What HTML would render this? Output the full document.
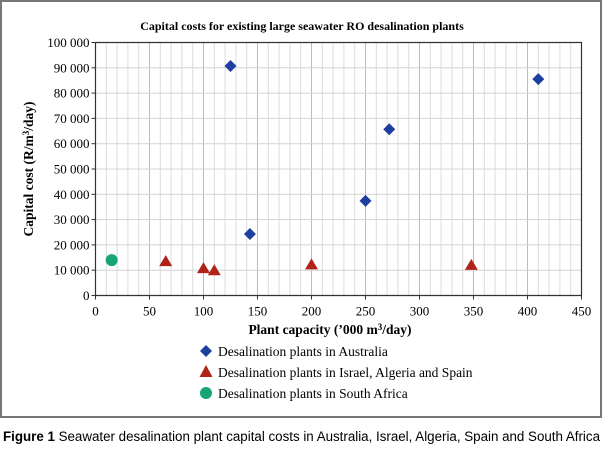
<!DOCTYPE html>
<html><head><meta charset="utf-8"><style>
html,body{margin:0;padding:0;background:#fff;}
svg{display:block;font-family:"Liberation Serif",serif;}
</style></head><body>
<svg id="chart" width="603" height="462" viewBox="0 0 603 462">
<rect x="1" y="1" width="600" height="416" fill="#fff" stroke="#777" stroke-width="2"/>
<text x="302" y="30" text-anchor="middle" font-size="12" font-weight="bold">Capital costs for existing large seawater RO desalination plants</text>
<g id="grid"></g>
<g id="axes"></g>
<g id="marks"></g>
<text x="330" y="334" text-anchor="middle" font-size="13.5" font-weight="bold">Plant capacity (’000 m<tspan font-size="9" dy="-4">3</tspan><tspan dy="4">/day)</tspan></text>
<text transform="translate(33,169) rotate(-90)" text-anchor="middle" font-size="13.5" font-weight="bold">Capital cost (R/m<tspan font-size="9" dy="-4">3</tspan><tspan dy="4">/day)</tspan></text>
<g>
<g><polygon points="206,345 212,351 206,357 200,351" fill="#1f3fa0"/><text x="218" y="356" font-size="13.5">Desalination plants in Australia</text></g>
<g><polygon points="206,365 212.5,377 199.5,377" fill="#b02318"/><text x="218" y="377" font-size="13.5">Desalination plants in Israel, Algeria and Spain</text></g>
<g><circle cx="206" cy="393" r="6" fill="#16a672"/><text x="218" y="398" font-size="13.5">Desalination plants in South Africa</text></g>
</g>
<text x="3" y="441" font-family="'Liberation Sans',sans-serif" font-size="13.5" textLength="597" lengthAdjust="spacingAndGlyphs"><tspan font-weight="bold">Figure 1</tspan> Seawater desalination plant capital costs in Australia, Israel, Algeria, Spain and South Africa</text>
</svg>
<script>
const xTicks=[0,50,100,150,200,250,300,350,400,450];
const yTicks=[0,10000,20000,30000,40000,50000,60000,70000,80000,90000,100000];
const ausX=[125,143,250,272,410];
const ausY=[90700,24300,37400,65700,85500];
const isrX=[65,100,110,200,348];
const isrY=[13600,10800,10000,12300,12100];
const saX=[15];
const saY=[14000];
const NS='http://www.w3.org/2000/svg';
const X0=95.5,X1=581.5,Y0=295.5,Y1=42.5;
function sx(v){return X0+(v/450)*(X1-X0);}
function sy(v){return Y0-(v/100000)*(Y0-Y1);}
function mk(tag,attrs,parent){const e=document.createElementNS(NS,tag);for(const k in attrs)e.setAttribute(k,attrs[k]);parent.appendChild(e);return e;}
const grid=document.getElementById('grid'),axes=document.getElementById('axes'),marks=document.getElementById('marks');
for(let v=10;v<450;v+=10){const l=mk('line',{x1:sx(v),x2:sx(v),y1:Y1,y2:Y0,stroke:(v%50===0)?'#bbb':'#dcdcdc','stroke-width':1},grid);

}
yTicks.forEach(v=>{if(v===0)return;const l=mk('line',{x1:X0,x2:X1,y1:sy(v),y2:sy(v),stroke:'#d4d4d4','stroke-width':1},grid);

});
const ax=mk('path',{d:`M${X0},${Y1}V${Y0}H${X1}V${Y1}H${X0}`,fill:'none',stroke:'#333','stroke-width':1.2},axes);


xTicks.forEach(v=>{mk('line',{x1:sx(v),x2:sx(v),y1:Y0,y2:Y0+4,stroke:'#333'},axes);
const t=mk('text',{x:sx(v),y:Y0+20,'text-anchor':'middle','font-size':13},axes);t.textContent=v;

});
yTicks.forEach(v=>{mk('line',{x1:X0-4,x2:X0,y1:sy(v),y2:sy(v),stroke:'#333'},axes);
const t=mk('text',{x:X0-6,y:sy(v)+4.5,'text-anchor':'end','font-size':13},axes);t.textContent=v===0?'0':v.toLocaleString('en-US').replace(/,/g,' ');

});
ausX.forEach((v,i)=>{const x=sx(v),y=sy(ausY[i]);const p=mk('polygon',{points:`${x},${y-6} ${x+6},${y} ${x},${y+6} ${x-6},${y}`,fill:'#1f3fa0'},marks);

});
isrX.forEach((v,i)=>{const x=sx(v),y=sy(isrY[i]);const p=mk('polygon',{points:`${x},${y-6} ${x+6.5},${y+5} ${x-6.5},${y+5}`,fill:'#b02318'},marks);

});
saX.forEach((v,i)=>{const p=mk('circle',{cx:sx(v),cy:sy(saY[i]),r:6,fill:'#16a672'},marks);

});
</script>
</body></html>
